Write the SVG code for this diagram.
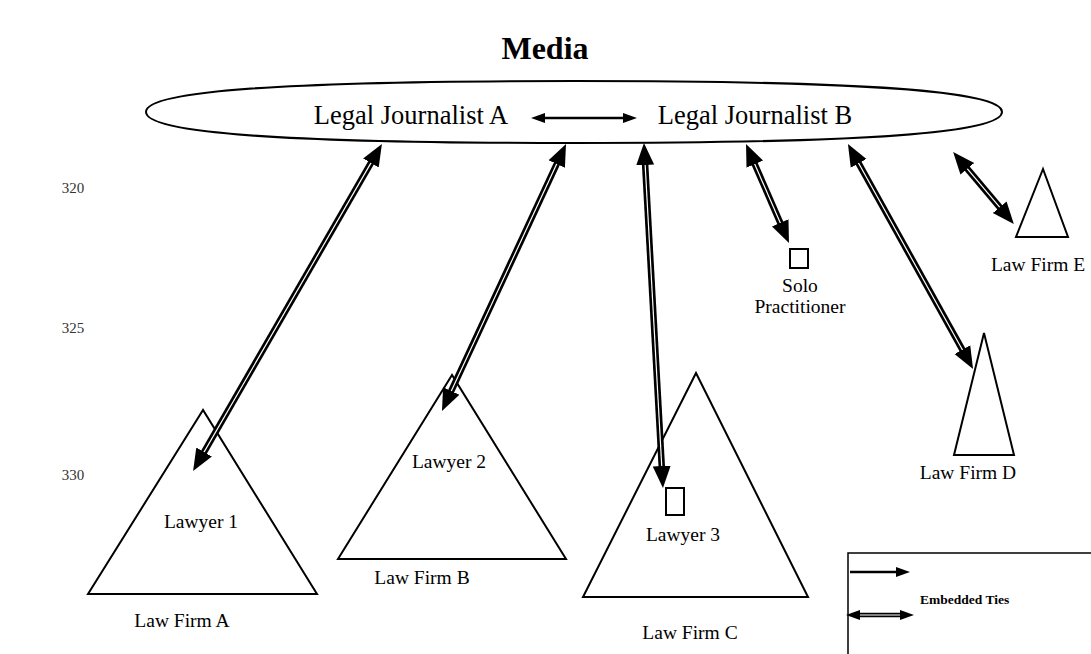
<svg xmlns="http://www.w3.org/2000/svg" width="1091" height="654" viewBox="0 0 1091 654">
<defs>
<style>
text{font-family:"Liberation Serif","Times New Roman",serif;fill:#000}
.lbl{font-size:19.5px;text-anchor:middle}
.jr{font-size:26.5px;text-anchor:middle}
.num{font-size:15px;text-anchor:middle;fill:#333}
.shape{fill:#fff;stroke:#000;stroke-width:2}
.tieb{stroke:#000;stroke-width:6.5;fill:none}
.tiew{stroke:#fff;stroke-width:1.2;fill:none;marker-start:url(#ah);marker-end:url(#ah)}
</style>
<marker id="ah" markerUnits="userSpaceOnUse" markerWidth="24" markerHeight="20" viewBox="0 0 24 20" refX="12" refY="10" orient="auto-start-reverse"><path d="M0,1 L22,10 L0,19 Z" fill="#000"/></marker>
<marker id="sh" markerUnits="userSpaceOnUse" markerWidth="16" markerHeight="12" viewBox="0 0 16 12" refX="4" refY="6" orient="auto-start-reverse"><path d="M0,1 L14,6 L0,11 Z" fill="#000"/></marker>
</defs>
<rect width="1091" height="654" fill="#fff"/>

<text x="545" y="59" style="font-size:32px;font-weight:bold;text-anchor:middle">Media</text>

<g id="margin">
<text class="num" x="73" y="193">320</text>
<text class="num" x="73" y="333">325</text>
<text class="num" x="73" y="480">330</text>
</g>

<g id="media">
<path class="shape" d="M146,112 C146,90.9 283,81 574,81 C865,81 1002,90.9 1002,112 C1002,133.1 865,143 574,143 C283,143 146,133.1 146,112 Z"/>
<text class="jr" x="411" y="124">Legal Journalist A</text>
<text class="jr" x="755" y="124">Legal Journalist B</text>
</g>

<g id="lawfirmA">
<polygon class="shape" points="203,410 88,594 317,594"/>
<text class="lbl" x="201" y="528">Lawyer 1</text>
<text class="lbl" x="182" y="627">Law Firm A</text>
</g>
<g id="lawfirmB">
<polygon class="shape" points="452,375 338,559 566,559"/>
<text class="lbl" x="449" y="468">Lawyer 2</text>
<text class="lbl" x="422" y="584">Law Firm B</text>
</g>
<g id="lawfirmC">
<polygon class="shape" points="696,373 583,597 808,597"/>
<rect class="shape" x="666" y="488" width="18" height="27"/>
<text class="lbl" x="683" y="541">Lawyer 3</text>
<text class="lbl" x="690" y="639">Law Firm C</text>
</g>
<g id="lawfirmD">
<polygon class="shape" points="984,333 954,455 1014,455"/>
<text class="lbl" x="968" y="479">Law Firm D</text>
</g>
<g id="lawfirmE">
<polygon class="shape" points="1043,169 1016,237 1068,237"/>
<text class="lbl" x="1038" y="271">Law Firm E</text>
</g>
<g id="solo">
<rect class="shape" x="790" y="249" width="18" height="19"/>
<text class="lbl" x="800" y="292">Solo</text>
<text class="lbl" x="800" y="313">Practitioner</text>
</g>

<g id="connectors">
<line x1="541" y1="118" x2="627" y2="118" stroke="#000" stroke-width="2.5" marker-start="url(#sh)" marker-end="url(#sh)"/>
<line class="tieb" x1="376.9" y1="152.6" x2="198.1" y2="462.4"/>
<line class="tiew" x1="376.9" y1="152.6" x2="198.1" y2="462.4"/>
<line class="tieb" x1="561.8" y1="153.1" x2="446.2" y2="401.9"/>
<line class="tiew" x1="561.8" y1="153.1" x2="446.2" y2="401.9"/>
<line class="tieb" x1="644.5" y1="153" x2="662.4" y2="478"/>
<line class="tiew" x1="644.5" y1="153" x2="662.4" y2="478"/>
<line class="tieb" x1="750" y1="153.2" x2="785" y2="233.8"/>
<line class="tiew" x1="750" y1="153.2" x2="785" y2="233.8"/>
<line class="tieb" x1="852.8" y1="152.8" x2="968.2" y2="360.2"/>
<line class="tiew" x1="852.8" y1="152.8" x2="968.2" y2="360.2"/>
<line class="tieb" x1="959.6" y1="159.6" x2="1007.4" y2="216.4"/>
<line class="tiew" x1="959.6" y1="159.6" x2="1007.4" y2="216.4"/>
</g>

<g id="legend">
<path d="M848,654 L848,553 L1091,553" fill="none" stroke="#000" stroke-width="1.5"/>
<line x1="850" y1="572" x2="900" y2="572" stroke="#000" stroke-width="2.5" marker-end="url(#sh)"/>
<line x1="856" y1="615" x2="904" y2="615" stroke="#000" stroke-width="4.5"/>
<line x1="856" y1="615" x2="904" y2="615" stroke="#fff" stroke-width="1" marker-start="url(#sh)" marker-end="url(#sh)"/>
<text x="920" y="604" style="font-size:13.5px;font-weight:bold">Embedded Ties</text>
</g>
</svg>
